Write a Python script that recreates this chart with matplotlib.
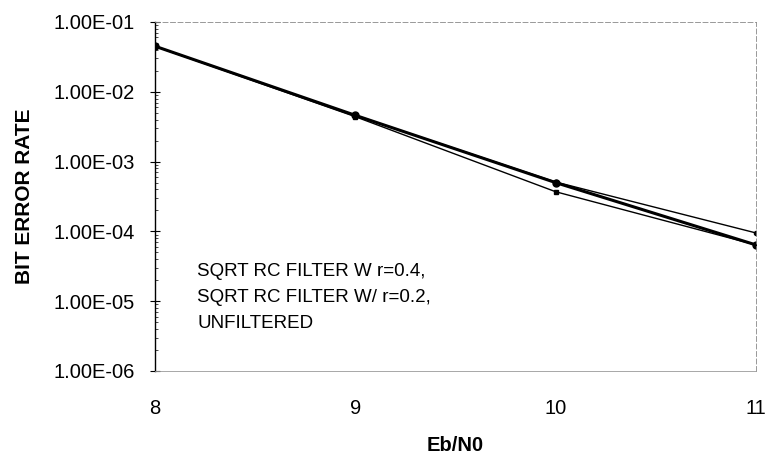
import matplotlib
matplotlib.use("Agg")
import matplotlib.pyplot as plt
from matplotlib.ticker import FixedLocator, FuncFormatter, LogLocator, NullFormatter

# ---------------------------------------------------------------------------
# Data
# ---------------------------------------------------------------------------
ebn0 = [8, 9, 10, 11]
ber_r04 = [4.5e-2, 4.6e-3, 5.1e-4, 9.5e-5]
ber_r02 = [4.5e-2, 4.6e-3, 5.0e-4, 6.4e-5]
ber_unf = [4.5e-2, 4.4e-3, 3.7e-4, 6.4e-5]
legend_lines = ["SQRT RC FILTER W r=0.4,", "SQRT RC FILTER W/ r=0.2,", "UNFILTERED"]
y_ticks = [1e-1, 1e-2, 1e-3, 1e-4, 1e-5, 1e-6]

plt.rcParams["font.family"] = ["Liberation Sans", "DejaVu Sans"]

fig = plt.figure(figsize=(7.73, 4.59), dpi=100)
ax = fig.add_axes([155 / 773, 1 - 371 / 459, 601 / 773, 349 / 459])

ax.plot(ebn0, ber_r04, color="black", linewidth=1.0, marker="o", markersize=3)
ax.plot(ebn0, ber_r02, color="black", linewidth=2.2, marker="o", markersize=5)
ax.plot(ebn0, ber_unf, color="black", linewidth=1.0, marker="s", markersize=3)

ax.set_yscale("log")
ax.set_ylim(1e-6, 1e-1)
ax.set_xlim(8, 11)
ax.yaxis.set_major_locator(FixedLocator(y_ticks))
ax.yaxis.set_major_formatter(FuncFormatter(lambda v, p: f"{v:.2E}"))
ax.yaxis.set_minor_locator(LogLocator(base=10, subs=range(2, 10)))
ax.yaxis.set_minor_formatter(NullFormatter())
ax.set_xticks(ebn0)
ax.set_xticklabels([str(v) for v in ebn0])

ax.tick_params(axis="y", which="major", direction="inout", length=7, width=0.8, labelsize=14.5, pad=11)
ax.tick_params(axis="y", which="minor", direction="in", length=2, width=0.5)
ax.tick_params(axis="x", which="major", length=0, labelsize=14.5, pad=20)

for side in ["top", "right"]:
    ax.spines[side].set_linewidth(0.6)
    ax.spines[side].set_color("#888888")
    ax.spines[side].set_linestyle((0, (6, 3)))
ax.spines["left"].set_linewidth(1.0)
ax.spines["bottom"].set_linewidth(0.6)
ax.spines["bottom"].set_color("#999999")

ax.set_ylabel("BIT ERROR RATE", fontsize=15, fontweight="bold", labelpad=14)
ax.set_xlabel("Eb/N0", fontsize=14.5, fontweight="bold", labelpad=13)

for i, txt in enumerate(legend_lines):
    ax.text(0.07, 0.284 - i * 0.0745, txt, transform=ax.transAxes, fontsize=13.5,
            va="center", ha="left")

fig.savefig("out.png", dpi=100)
